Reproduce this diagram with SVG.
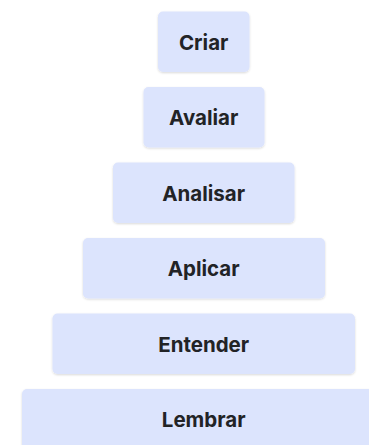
<svg xmlns="http://www.w3.org/2000/svg" width="369" height="445" viewBox="0 0 369 445">
<style>
.box{fill:#dce4fd;filter:url(#sh)}
.lbl{font-family:Inter,"Liberation Sans",sans-serif;font-weight:700;font-size:20.5px;fill:#222326;text-anchor:middle}
</style>
<defs>
<filter id="sh" x="-10%" y="-20%" width="120%" height="150%">
<feDropShadow dx="0" dy="1" stdDeviation="1" flood-color="#000" flood-opacity="0.15"/>
</filter>
</defs>
<rect width="369" height="445" fill="#ffffff"/>
<g id="criar"><rect class="box" x="158" y="11.5" width="91.5" height="60.5" rx="5"/><text class="lbl" x="203.7" y="49.5">Criar</text></g>
<g id="avaliar"><rect class="box" x="143.5" y="87" width="121" height="60.5" rx="5"/><text class="lbl" x="203.7" y="125">Avaliar</text></g>
<g id="analisar"><rect class="box" x="113" y="162.5" width="181.5" height="60.5" rx="5"/><text class="lbl" x="203.7" y="200.5">Analisar</text></g>
<g id="aplicar"><rect class="box" x="83" y="238" width="242" height="60.5" rx="5"/><text class="lbl" x="203.7" y="276">Aplicar</text></g>
<g id="entender"><rect class="box" x="52.5" y="313.5" width="302.5" height="60.5" rx="5"/><text class="lbl" x="203.7" y="351.5">Entender</text></g>
<g id="lembrar"><rect class="box" x="22" y="389" width="363" height="60.5" rx="5"/><text class="lbl" x="203.7" y="427">Lembrar</text></g>
<g id="connectors"></g>
</svg>
